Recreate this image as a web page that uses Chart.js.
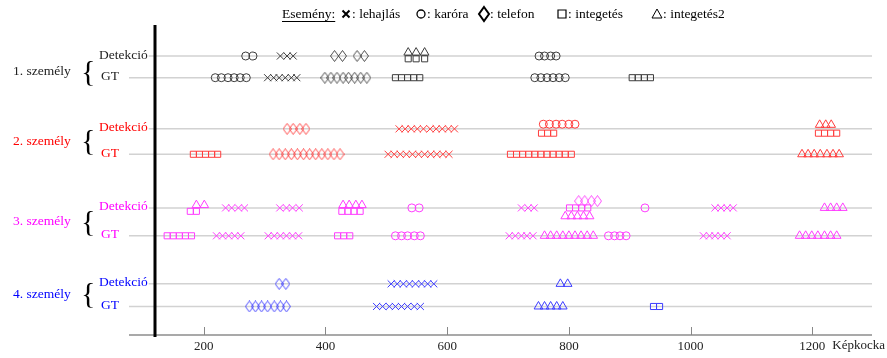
<!DOCTYPE html>
<html lang="hu">
<head>
<meta charset="utf-8">
<title>Események</title>
<script src="https://cdn.jsdelivr.net/npm/chart.js@4.4.0/dist/chart.umd.min.js"></script>
<style>
  html, body { margin: 0; padding: 0; background: #fff; }
</style>
</head>
<body>
<canvas id="grafikon" width="887" height="358"></canvas>
<script>
// Címkék
const szemelyek = ['1. személy', '2. személy', '3. személy', '4. személy'];
const sorNevek = ['Detekció', 'GT'];
const esemenyek = ['lehajlás', 'karóra', 'telefon', 'integetés', 'integetés2'];
const xTickek = [200, 400, 600, 800, 1000, 1200];

// 1. személy (képkocka értékek)
const sz1DetLehajlas = [326, 337, 347];
const sz1DetKarora = [269, 281, 751, 760, 770, 779];
const sz1DetTelefon = [415, 428, 452, 464];
const sz1DetIntegetes = [536, 549, 563];
const sz1DetIntegetes2 = [536, 549, 563];
const sz1GtLehajlas = [305, 315, 324, 334, 344, 353];
const sz1GtKarora = [219, 229, 240, 250, 260, 270, 744, 754, 764, 774, 784, 794];
const sz1GtTelefon = [399, 409, 419, 429, 438, 448, 458, 468];
const sz1GtIntegetes = [515, 525, 535, 545, 555, 904, 914, 924, 934];

// 2. személy
const sz2DetLehajlas = [521, 531, 541, 551, 561, 572, 582, 592, 602, 612];
const sz2DetKarora = [758, 768, 779, 789, 800, 810];
const sz2DetTelefon = [337, 347, 358, 368];
const sz2DetIntegetes = [755, 765, 775, 1210, 1220, 1230, 1240];
const sz2DetIntegetes2 = [1212, 1222, 1231];
const sz2GtLehajlas = [503, 513, 523, 533, 543, 553, 563, 573, 583, 593, 603];
const sz2GtTelefon = [314, 324, 334, 344, 354, 364, 374, 384, 394, 404, 414, 424];
const sz2GtIntegetes = [183, 193, 203, 213, 223, 704, 714, 724, 734, 744, 754, 764, 774, 784, 794, 804];
const sz2GtIntegetes2 = [1183, 1193, 1203, 1213, 1224, 1234, 1244];

// 3. személy
const sz3DetLehajlas = [236, 246, 257, 267, 325, 336, 346, 357, 722, 733, 743, 1040, 1050, 1060, 1070];
const sz3DetKarora = [542, 554, 925];
const sz3DetTelefon = [816, 826, 837, 847];
const sz3DetIntegetesA = [178, 188, 427, 437, 447, 457];
const sz3DetIntegetesB = [801, 811, 821, 831];
const sz3DetIntegetes2A = [188, 201, 429, 439, 450, 460];
const sz3DetIntegetes2B = [794, 804, 814, 824, 834];
const sz3DetIntegetes2C = [1220, 1230, 1240, 1250];
const sz3GtLehajlas = [221, 231, 241, 251, 261, 306, 316, 326, 336, 346, 356, 702, 712, 722, 731, 741, 1021, 1031, 1040, 1050, 1060];
const sz3GtKarora = [515, 525, 535, 546, 556, 865, 875, 884, 894];
const sz3GtIntegetes = [140, 150, 160, 170, 180, 420, 430, 440];
const sz3GtIntegetes2 = [760, 770, 780, 790, 800, 810, 820, 830, 840, 1179, 1189, 1199, 1209, 1220, 1230, 1240];

// 4. személy
const sz4DetLehajlas = [508, 518, 528, 538, 548, 558, 568, 578];
const sz4DetTelefon = [324, 335];
const sz4DetIntegetes2 = [786, 798];
const sz4GtLehajlas = [484, 494, 505, 515, 525, 535, 546, 556];
const sz4GtTelefon = [275, 285, 295, 305, 316, 326, 336];
const sz4GtIntegetes = [939, 949];
const sz4GtIntegetes2 = [750, 760, 770, 780, 790];

// sor helyek (y egységben) és színek
const sorHelyek = [1.0, 1.7, 3.35, 4.17, 5.9, 6.8, 8.35, 9.08];
const jelSzinek = ['#3c3c3c', '#ff3c3c', '#ff3cff', '#3c3cff'];
const szovegSzinek = ['#222222', '#ff0000', '#ff00ff', '#0000ff'];

// [sor, esemény, függőleges eltolás, adatok]
const sorozatok = [
  [0, 0, 0, sz1DetLehajlas], [0, 1, 0, sz1DetKarora], [0, 2, 0, sz1DetTelefon],
  [0, 3, 0.09, sz1DetIntegetes], [0, 4, -0.11, sz1DetIntegetes2],
  [1, 0, 0, sz1GtLehajlas], [1, 1, 0, sz1GtKarora], [1, 2, 0, sz1GtTelefon], [1, 3, 0, sz1GtIntegetes],

  [2, 0, 0, sz2DetLehajlas], [2, 1, -0.15, sz2DetKarora], [2, 2, 0, sz2DetTelefon],
  [2, 3, 0.14, sz2DetIntegetes], [2, 4, -0.13, sz2DetIntegetes2],
  [3, 0, 0, sz2GtLehajlas], [3, 2, 0, sz2GtTelefon], [3, 3, 0, sz2GtIntegetes], [3, 4, 0, sz2GtIntegetes2],

  [4, 0, 0, sz3DetLehajlas], [4, 1, 0, sz3DetKarora], [4, 2, -0.22, sz3DetTelefon],
  [4, 3, 0.11, sz3DetIntegetesA], [4, 3, 0, sz3DetIntegetesB],
  [4, 4, -0.09, sz3DetIntegetes2A], [4, 4, 0.27, sz3DetIntegetes2B], [4, 4, 0, sz3DetIntegetes2C],
  [5, 0, 0, sz3GtLehajlas], [5, 1, 0, sz3GtKarora], [5, 3, 0, sz3GtIntegetes], [5, 4, 0, sz3GtIntegetes2],

  [6, 0, 0, sz4DetLehajlas], [6, 2, 0, sz4DetTelefon], [6, 4, 0, sz4DetIntegetes2],
  [7, 0, 0, sz4GtLehajlas], [7, 2, 0, sz4GtTelefon], [7, 3, 0, sz4GtIntegetes], [7, 4, 0, sz4GtIntegetes2]
];

const betu = 'Liberation Serif, Times New Roman, serif';

// álló rombusz a telefon jelhez
function rombusz(szin, w, h, vastag) {
  const c = document.createElement('canvas');
  c.width = w;
  c.height = h;
  const g = c.getContext('2d');
  g.strokeStyle = szin;
  g.lineWidth = vastag;
  g.beginPath();
  g.moveTo(w / 2, 0.5);
  g.lineTo(w - 0.5, h / 2);
  g.lineTo(w / 2, h - 0.5);
  g.lineTo(0.5, h / 2);
  g.closePath();
  g.stroke();
  return c;
}

function jelStilus(es, szin) {
  if (es === 0) return { pointStyle: 'crossRot', radius: 5 };
  if (es === 1) return { pointStyle: 'circle', radius: 4 };
  if (es === 2) return { pointStyle: rombusz(szin, 9, 12, 0.9), radius: 5 };
  if (es === 3) return { pointStyle: 'rect', radius: 4.3 };
  return { pointStyle: 'triangle', radius: 5 };
}

const datasets = sorozatok.map(([sor, es, eltolas, adat]) => {
  const szin = jelSzinek[Math.floor(sor / 2)];
  const st = jelStilus(es, szin);
  return {
    label: sorNevek[sor % 2] + ' ' + esemenyek[es],
    data: adat.map(f => ({ x: f, y: sorHelyek[sor] + eltolas })),
    showLine: false,
    pointStyle: st.pointStyle,
    pointRadius: st.radius,
    pointHoverRadius: st.radius,
    borderColor: szin,
    backgroundColor: 'rgba(0,0,0,0)',
    pointBorderWidth: 1,
    clip: false
  };
});

// háttér: sorvonalak, tengely, fekete vonal, feliratok, jelmagyarázat
const rajzok = {
  id: 'rajzok',
  beforeDatasetsDraw(chart) {
    const { ctx, chartArea } = chart;
    const xs = chart.scales.x, ys = chart.scales.y;
    ctx.save();
    ctx.font = '13.5px ' + betu;
    ctx.strokeStyle = '#d2d2d2';
    ctx.lineWidth = 1.5;
    sorHelyek.forEach((v, i) => {
      const y = ys.getPixelForValue(v);
      let x0 = 129;
      if (i % 2 === 0) x0 = 99 + ctx.measureText(sorNevek[0]).width + 1;
      ctx.beginPath();
      ctx.moveTo(x0, y);
      ctx.lineTo(chartArea.right, y);
      ctx.stroke();
    });
    // x tengely vonal
    ctx.strokeStyle = '#555';
    ctx.lineWidth = 1.2;
    ctx.beginPath();
    ctx.moveTo(129, chartArea.bottom);
    ctx.lineTo(chartArea.right, chartArea.bottom);
    ctx.stroke();
    // befelé mutató jelek
    ctx.strokeStyle = '#888';
    ctx.lineWidth = 1;
    xTickek.forEach(t => {
      const x = Math.round(xs.getPixelForValue(t)) + 0.5;
      ctx.beginPath();
      ctx.moveTo(x, chartArea.bottom);
      ctx.lineTo(x, chartArea.bottom - 8);
      ctx.stroke();
    });
    // fekete függőleges vonal
    ctx.fillStyle = '#000';
    ctx.fillRect(chartArea.left - 1.5, chartArea.top, 3, chartArea.bottom - chartArea.top + 2);
    ctx.restore();
  },
  afterDraw(chart) {
    const { ctx, chartArea } = chart;
    const xs = chart.scales.x, ys = chart.scales.y;
    ctx.save();
    ctx.textBaseline = 'middle';
    const dy = [5, 0, 0, -1];
    szemelyek.forEach((nev, p) => {
      const yd = ys.getPixelForValue(sorHelyek[2 * p]);
      const yg = ys.getPixelForValue(sorHelyek[2 * p + 1]);
      const ym = (yd + yg) / 2 + dy[p];
      ctx.fillStyle = szovegSzinek[p];
      ctx.font = '13.5px ' + betu;
      ctx.textAlign = 'left';
      ctx.fillText(nev, 13, ym);
      ctx.fillText(sorNevek[0], 99, yd - 1);
      ctx.fillText(sorNevek[1], 101, yg - 1);
      ctx.fillStyle = '#000';
      ctx.font = '30px ' + betu;
      ctx.fillText('{', 81, ym + 1);
    });
    // Képkocka
    ctx.fillStyle = '#222';
    ctx.font = '13px ' + betu;
    ctx.textAlign = 'left';
    ctx.fillText('Képkocka', xs.getPixelForValue(1200) + 20, chartArea.bottom + 11);

    // jelmagyarázat
    const ly = 14;
    ctx.font = '13.5px ' + betu;
    ctx.fillStyle = '#000';
    ctx.fillText('Esemény:', 282, ly);
    const w = ctx.measureText('Esemény:').width;
    ctx.strokeStyle = '#000';
    ctx.lineWidth = 1;
    ctx.beginPath();
    ctx.moveTo(282, ly + 7.5);
    ctx.lineTo(282 + w, ly + 7.5);
    ctx.stroke();
    const helyek = [346, 421, 484, 562, 657];
    helyek.forEach((x, i) => {
      ctx.strokeStyle = '#000';
      ctx.beginPath();
      if (i === 0) {
        ctx.lineWidth = 2;
        ctx.moveTo(x - 3.5, ly - 3.5); ctx.lineTo(x + 3.5, ly + 3.5);
        ctx.moveTo(x + 3.5, ly - 3.5); ctx.lineTo(x - 3.5, ly + 3.5);
      } else if (i === 1) {
        ctx.lineWidth = 1.3;
        ctx.arc(x, ly, 4, 0, Math.PI * 2);
      } else if (i === 2) {
        ctx.lineWidth = 2;
        ctx.moveTo(x, ly - 7); ctx.lineTo(x + 5, ly); ctx.lineTo(x, ly + 7); ctx.lineTo(x - 5, ly); ctx.closePath();
      } else if (i === 3) {
        ctx.lineWidth = 1.2;
        ctx.rect(x - 4, ly - 4, 8, 8);
      } else {
        ctx.lineWidth = 1;
        ctx.moveTo(x, ly - 5); ctx.lineTo(x + 5, ly + 4); ctx.lineTo(x - 5, ly + 4); ctx.closePath();
      }
      ctx.stroke();
      ctx.fillText(': ' + esemenyek[i], x + 6, ly);
    });
    ctx.restore();
  }
};

new Chart(document.getElementById('grafikon'), {
  type: 'scatter',
  data: { datasets },
  options: {
    responsive: false,
    animation: false,
    events: [],
    layout: { padding: { left: 155, right: 15, top: 25, bottom: 0 } },
    plugins: { legend: { display: false }, tooltip: { enabled: false } },
    scales: {
      x: {
        type: 'linear',
        min: 120,
        max: 1298,
        grid: { display: false, drawTicks: false },
        border: { display: false },
        afterFit: s => { s.height = 23; },
        afterBuildTicks: s => { s.ticks = xTickek.map(v => ({ value: v })); },
        ticks: {
          font: { family: betu, size: 13 },
          color: '#222',
          padding: 4,
          maxRotation: 0,
          callback: v => String(v)
        }
      },
      y: {
        type: 'linear',
        reverse: true,
        min: 0,
        max: 10,
        display: false
      }
    }
  },
  plugins: [rajzok]
});
</script>
</body>
</html>
